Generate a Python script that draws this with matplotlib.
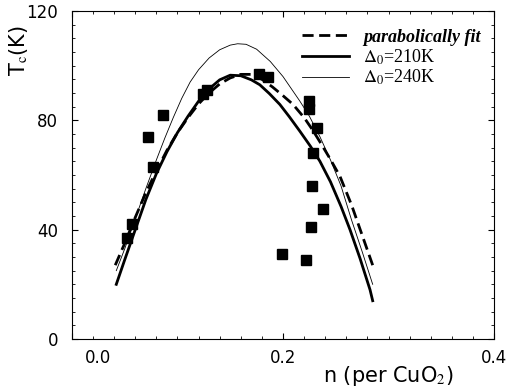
import numpy as np
import matplotlib
matplotlib.use("Agg")
import matplotlib.pyplot as plt
from matplotlib.ticker import MultipleLocator
import matplotlib.transforms as mtransforms

# experimental points (n per CuO2, Tc in K)
n_exp = [0.052, 0.057, 0.072, 0.077, 0.086, 0.124, 0.128, 0.177, 0.186,
         0.199, 0.222, 0.2246, 0.2246, 0.232, 0.228, 0.2275, 0.238, 0.2265]
tc_exp = [37, 42, 74, 63, 82, 89.5, 91, 97, 96,
          31, 29, 87, 84, 77, 68, 56, 47.6, 41]

# parabolic fit
n_fit = [0.041, 0.05, 0.06, 0.07, 0.08, 0.09, 0.10, 0.11, 0.12, 0.13, 0.14, 0.15,
         0.16, 0.17, 0.18, 0.19, 0.20, 0.2095, 0.22, 0.228, 0.236, 0.2445, 0.254,
         0.265, 0.275, 0.285]
tc_fit = [27, 35, 44.5, 53.5, 61.5, 69, 75.5, 81, 86, 90, 93.3, 95.5,
          96.8, 96.8, 95, 92.2, 89, 85.8, 81, 76.5, 71.5, 66, 59.5,
          49, 38, 27]

# Delta0 = 210K
n_210 = [0.042, 0.05, 0.06, 0.07, 0.08, 0.09, 0.10, 0.11, 0.12, 0.13, 0.14, 0.15,
         0.16, 0.17, 0.178, 0.187, 0.197, 0.206, 0.216, 0.226, 0.235, 0.245,
         0.255, 0.2635, 0.273, 0.2825, 0.285]
tc_210 = [20, 29, 40, 51, 60.5, 68.5, 75.5, 81.5, 87, 91.5, 94.8, 96.5,
          96.3, 94.8, 93, 89.8, 85.8, 81.3, 76, 70.5, 65, 57.5,
          48.5, 40, 29.5, 18, 14]

# Delta0 = 240K
n_240 = [0.042, 0.05, 0.06, 0.07, 0.08, 0.088, 0.096, 0.104, 0.112, 0.12, 0.13,
         0.14, 0.15, 0.157, 0.165, 0.175, 0.188, 0.20, 0.216, 0.225, 0.235,
         0.245, 0.255, 0.265, 0.275, 0.285]
tc_240 = [25, 33, 44, 55, 65.5, 73.5, 81, 88, 94, 98.5, 102.8,
          105.8, 107.5, 108, 107.8, 106, 101.5, 96, 87, 81.5, 74,
          65.5, 56, 43.5, 32, 20]

xtick_vals = [0.0, 0.2, 0.4]
xtick_text = ['0.0', '0.2', '0.4']

plt.rcParams['mathtext.fontset'] = 'stix'

fig = plt.figure(figsize=(5.32, 3.91), dpi=100)
ax = fig.add_axes([0.1353, 0.133, 0.7933, 0.839])

ax.plot(n_fit, tc_fit, color='black', lw=2.0, ls=(0, (4, 2)), label='parabolically fit')
ax.plot(n_210, tc_210, color='black', lw=2.0, label=r'$\Delta_0$=210K')
ax.plot(n_240, tc_240, color='black', lw=0.6, label=r'$\Delta_0$=240K')
ax.plot(n_exp, tc_exp, ls='none', marker='s', ms=6.5, color='black')

ax.set_xlim(0, 0.4)
ax.set_ylim(0, 120)
# first label is drawn separately (shifted right as in the original)
ax.set_xticks(xtick_vals, labels=[''] + xtick_text[1:])
ax.xaxis.set_minor_locator(MultipleLocator(0.02))
ax.yaxis.set_major_locator(MultipleLocator(40))
ax.yaxis.set_minor_locator(MultipleLocator(5))
ax.tick_params(which='both', direction='in', top=True, right=True, labelsize=12)
ax.tick_params(which='major', length=4, width=0.8)
ax.tick_params(axis='x', which='major', pad=7)
ax.tick_params(axis='y', which='major', pad=10)
ax.tick_params(which='minor', length=2.5, width=0.6)
for s in ax.spines.values():
    s.set_linewidth(0.8)

trans = mtransforms.blended_transform_factory(ax.transData, ax.transAxes)
ax.text(xtick_vals[0] + 0.025, 0, xtick_text[0], transform=trans, fontsize=12,
        ha='center', va='top',
        ).set_transform(trans + mtransforms.ScaledTranslation(0, -7.5 / 72, fig.dpi_scale_trans))

ax.set_xlabel(r'n (per CuO$_2$)', fontsize=15)
ax.xaxis.set_label_coords(0.75, -0.075)
ax.set_ylabel(r'T$_{\rm c}$(K)', fontsize=15)
ax.yaxis.set_label_coords(-0.10, 0.878)

leg = ax.legend(loc='upper right', bbox_to_anchor=(0.985, 0.968), frameon=False,
                handlelength=2.6, labelspacing=0.08, handletextpad=0.8,
                borderaxespad=0.0,
                prop={'family': 'Liberation Serif', 'size': 13})
leg.get_texts()[0].set_fontweight('bold')
leg.get_texts()[0].set_fontstyle('italic')

fig.savefig('out.png', dpi=100)
